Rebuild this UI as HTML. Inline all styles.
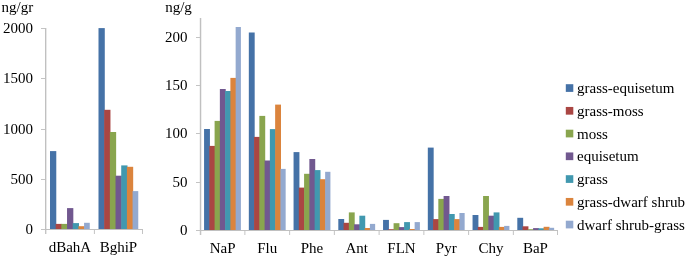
<!DOCTYPE html>
<html><head><meta charset="utf-8"><style>
html,body{margin:0;padding:0;background:#fff;}
body{width:685px;height:257px;overflow:hidden;}
svg{display:block;filter:blur(0.35px);}
text{font-family:"Liberation Serif", serif;font-size:15px;fill:#000;}
</style></head><body>
<svg width="685" height="257" viewBox="0 0 685 257">
<rect x="50.00" y="151.10" width="6.28" height="77.90" fill="#4572A7"/>
<rect x="55.68" y="223.90" width="6.28" height="5.10" fill="#AA4643"/>
<rect x="61.36" y="223.90" width="6.28" height="5.10" fill="#89A54E"/>
<rect x="67.04" y="208.10" width="6.28" height="20.90" fill="#71588F"/>
<rect x="72.72" y="223.10" width="6.28" height="5.90" fill="#4198AF"/>
<rect x="78.40" y="226.20" width="6.28" height="2.80" fill="#DB843D"/>
<rect x="84.08" y="222.80" width="5.68" height="6.20" fill="#93A9CF"/>
<rect x="98.50" y="28.10" width="6.28" height="200.90" fill="#4572A7"/>
<rect x="104.18" y="109.80" width="6.28" height="119.20" fill="#AA4643"/>
<rect x="109.86" y="132.00" width="6.28" height="97.00" fill="#89A54E"/>
<rect x="115.54" y="175.70" width="6.28" height="53.30" fill="#71588F"/>
<rect x="121.22" y="165.40" width="6.28" height="63.60" fill="#4198AF"/>
<rect x="126.90" y="166.80" width="6.28" height="62.20" fill="#DB843D"/>
<rect x="132.58" y="191.10" width="5.68" height="37.90" fill="#93A9CF"/>
<rect x="46" y="28" width="1" height="206" fill="#e8e8e8"/>
<rect x="45" y="28" width="1" height="206" fill="#c0c0c0"/>
<rect x="41" y="229" width="102" height="1" fill="#c0c0c0"/>
<rect x="41" y="28" width="4" height="1" fill="#c4c4c4"/>
<text x="32.9" y="33.40" text-anchor="end">2000</text>
<rect x="41" y="78" width="4" height="1" fill="#c4c4c4"/>
<text x="32.9" y="83.40" text-anchor="end">1500</text>
<rect x="41" y="129" width="4" height="1" fill="#c4c4c4"/>
<text x="32.9" y="134.40" text-anchor="end">1000</text>
<rect x="41" y="179" width="4" height="1" fill="#c4c4c4"/>
<text x="32.9" y="184.40" text-anchor="end">500</text>
<rect x="41" y="229" width="4" height="1" fill="#c4c4c4"/>
<text x="32.9" y="234.40" text-anchor="end">0</text>
<rect x="45.00" y="230" width="1" height="4" fill="#c4c4c4"/>
<rect x="93.90" y="230" width="1" height="4" fill="#c4c4c4"/>
<rect x="142.00" y="230" width="1" height="4" fill="#c4c4c4"/>
<text x="69.95" y="251.9" text-anchor="middle">dBahA</text>
<text x="118.45" y="251.9" text-anchor="middle">BghiP</text>
<rect x="204.07" y="129.00" width="5.86" height="101.00" fill="#4572A7"/>
<rect x="209.33" y="145.90" width="5.86" height="84.10" fill="#AA4643"/>
<rect x="214.60" y="120.90" width="5.86" height="109.10" fill="#89A54E"/>
<rect x="219.86" y="89.00" width="5.86" height="141.00" fill="#71588F"/>
<rect x="225.13" y="91.00" width="5.86" height="139.00" fill="#4198AF"/>
<rect x="230.39" y="77.90" width="5.86" height="152.10" fill="#DB843D"/>
<rect x="235.65" y="27.00" width="5.26" height="203.00" fill="#93A9CF"/>
<rect x="248.82" y="32.50" width="5.86" height="197.50" fill="#4572A7"/>
<rect x="254.08" y="136.90" width="5.86" height="93.10" fill="#AA4643"/>
<rect x="259.35" y="115.90" width="5.86" height="114.10" fill="#89A54E"/>
<rect x="264.61" y="160.50" width="5.86" height="69.50" fill="#71588F"/>
<rect x="269.87" y="129.10" width="5.86" height="100.90" fill="#4198AF"/>
<rect x="275.14" y="104.60" width="5.86" height="125.40" fill="#DB843D"/>
<rect x="280.40" y="168.90" width="5.26" height="61.10" fill="#93A9CF"/>
<rect x="293.56" y="152.10" width="5.86" height="77.90" fill="#4572A7"/>
<rect x="298.83" y="187.60" width="5.86" height="42.40" fill="#AA4643"/>
<rect x="304.09" y="173.80" width="5.86" height="56.20" fill="#89A54E"/>
<rect x="309.36" y="159.00" width="5.86" height="71.00" fill="#71588F"/>
<rect x="314.62" y="170.10" width="5.86" height="59.90" fill="#4198AF"/>
<rect x="319.88" y="179.20" width="5.86" height="50.80" fill="#DB843D"/>
<rect x="325.15" y="171.80" width="5.26" height="58.20" fill="#93A9CF"/>
<rect x="338.31" y="219.00" width="5.86" height="11.00" fill="#4572A7"/>
<rect x="343.57" y="222.80" width="5.86" height="7.20" fill="#AA4643"/>
<rect x="348.84" y="212.40" width="5.86" height="17.60" fill="#89A54E"/>
<rect x="354.10" y="224.30" width="5.86" height="5.70" fill="#71588F"/>
<rect x="359.37" y="215.70" width="5.86" height="14.30" fill="#4198AF"/>
<rect x="364.63" y="228.00" width="5.86" height="2.00" fill="#DB843D"/>
<rect x="369.89" y="223.90" width="5.26" height="6.10" fill="#93A9CF"/>
<rect x="383.06" y="219.90" width="5.86" height="10.10" fill="#4572A7"/>
<rect x="388.32" y="229.20" width="5.86" height="0.80" fill="#AA4643"/>
<rect x="393.59" y="223.20" width="5.86" height="6.80" fill="#89A54E"/>
<rect x="398.85" y="227.10" width="5.86" height="2.90" fill="#71588F"/>
<rect x="404.11" y="222.10" width="5.86" height="7.90" fill="#4198AF"/>
<rect x="409.38" y="229.00" width="5.86" height="1.00" fill="#DB843D"/>
<rect x="414.64" y="222.10" width="5.26" height="7.90" fill="#93A9CF"/>
<rect x="427.81" y="147.60" width="5.86" height="82.40" fill="#4572A7"/>
<rect x="433.07" y="219.10" width="5.86" height="10.90" fill="#AA4643"/>
<rect x="438.33" y="198.90" width="5.86" height="31.10" fill="#89A54E"/>
<rect x="443.60" y="196.00" width="5.86" height="34.00" fill="#71588F"/>
<rect x="448.86" y="214.00" width="5.86" height="16.00" fill="#4198AF"/>
<rect x="454.12" y="219.10" width="5.86" height="10.90" fill="#DB843D"/>
<rect x="459.39" y="213.00" width="5.26" height="17.00" fill="#93A9CF"/>
<rect x="472.55" y="215.00" width="5.86" height="15.00" fill="#4572A7"/>
<rect x="477.82" y="226.90" width="5.86" height="3.10" fill="#AA4643"/>
<rect x="483.08" y="196.00" width="5.86" height="34.00" fill="#89A54E"/>
<rect x="488.34" y="215.70" width="5.86" height="14.30" fill="#71588F"/>
<rect x="493.61" y="212.40" width="5.86" height="17.60" fill="#4198AF"/>
<rect x="498.87" y="226.90" width="5.86" height="3.10" fill="#DB843D"/>
<rect x="504.14" y="225.90" width="5.26" height="4.10" fill="#93A9CF"/>
<rect x="517.30" y="217.80" width="5.86" height="12.20" fill="#4572A7"/>
<rect x="522.56" y="226.30" width="5.86" height="3.70" fill="#AA4643"/>
<rect x="527.83" y="229.20" width="5.86" height="0.80" fill="#89A54E"/>
<rect x="533.09" y="228.10" width="5.86" height="1.90" fill="#71588F"/>
<rect x="538.36" y="228.30" width="5.86" height="1.70" fill="#4198AF"/>
<rect x="543.62" y="226.80" width="5.86" height="3.20" fill="#DB843D"/>
<rect x="548.88" y="227.80" width="5.26" height="2.20" fill="#93A9CF"/>
<rect x="199" y="18" width="1" height="217" fill="#f3f3f3"/>
<rect x="201" y="18" width="1" height="217" fill="#efefef"/>
<rect x="200" y="18" width="1" height="217" fill="#c0c0c0"/>
<rect x="196" y="230" width="362" height="1" fill="#c0c0c0"/>
<rect x="196" y="37" width="4" height="1" fill="#c4c4c4"/>
<text x="187.6" y="42.40" text-anchor="end">200</text>
<rect x="196" y="85" width="4" height="1" fill="#c4c4c4"/>
<text x="187.6" y="90.40" text-anchor="end">150</text>
<rect x="196" y="133" width="4" height="1" fill="#c4c4c4"/>
<text x="187.6" y="138.40" text-anchor="end">100</text>
<rect x="196" y="182" width="4" height="1" fill="#c4c4c4"/>
<text x="187.6" y="187.40" text-anchor="end">50</text>
<rect x="196" y="230" width="4" height="1" fill="#c4c4c4"/>
<text x="187.6" y="235.40" text-anchor="end">0</text>
<rect x="200.00" y="231" width="1" height="4" fill="#c4c4c4"/>
<rect x="244.37" y="231" width="1" height="4" fill="#c4c4c4"/>
<rect x="289.12" y="231" width="1" height="4" fill="#c4c4c4"/>
<rect x="333.86" y="231" width="1" height="4" fill="#c4c4c4"/>
<rect x="378.61" y="231" width="1" height="4" fill="#c4c4c4"/>
<rect x="423.36" y="231" width="1" height="4" fill="#c4c4c4"/>
<rect x="468.10" y="231" width="1" height="4" fill="#c4c4c4"/>
<rect x="512.85" y="231" width="1" height="4" fill="#c4c4c4"/>
<rect x="557.00" y="231" width="1" height="4" fill="#c4c4c4"/>
<text x="222.68" y="252.9" text-anchor="middle">NaP</text>
<text x="267.24" y="252.9" text-anchor="middle">Flu</text>
<text x="311.99" y="252.9" text-anchor="middle">Phe</text>
<text x="356.74" y="252.9" text-anchor="middle">Ant</text>
<text x="401.48" y="252.9" text-anchor="middle">FLN</text>
<text x="446.23" y="252.9" text-anchor="middle">Pyr</text>
<text x="490.98" y="252.9" text-anchor="middle">Chy</text>
<text x="535.43" y="252.9" text-anchor="middle">BaP</text>
<text x="1.6" y="11.9">ng/gr</text>
<text x="165.2" y="11.6">ng/g</text>
<rect x="565.8" y="84.20" width="7.5" height="7.7" fill="#4572A7"/>
<text x="577" y="93.00">grass-equisetum</text>
<rect x="565.8" y="106.95" width="7.5" height="7.7" fill="#AA4643"/>
<text x="577" y="115.75">grass-moss</text>
<rect x="565.8" y="129.70" width="7.5" height="7.7" fill="#89A54E"/>
<text x="577" y="138.50">moss</text>
<rect x="565.8" y="152.45" width="7.5" height="7.7" fill="#71588F"/>
<text x="577" y="161.25">equisetum</text>
<rect x="565.8" y="175.20" width="7.5" height="7.7" fill="#4198AF"/>
<text x="577" y="184.00">grass</text>
<rect x="565.8" y="197.95" width="7.5" height="7.7" fill="#DB843D"/>
<text x="577" y="206.75">grass-dwarf shrub</text>
<rect x="565.8" y="220.70" width="7.5" height="7.7" fill="#93A9CF"/>
<text x="577" y="229.50">dwarf shrub-grass</text>
</svg>
</body></html>
